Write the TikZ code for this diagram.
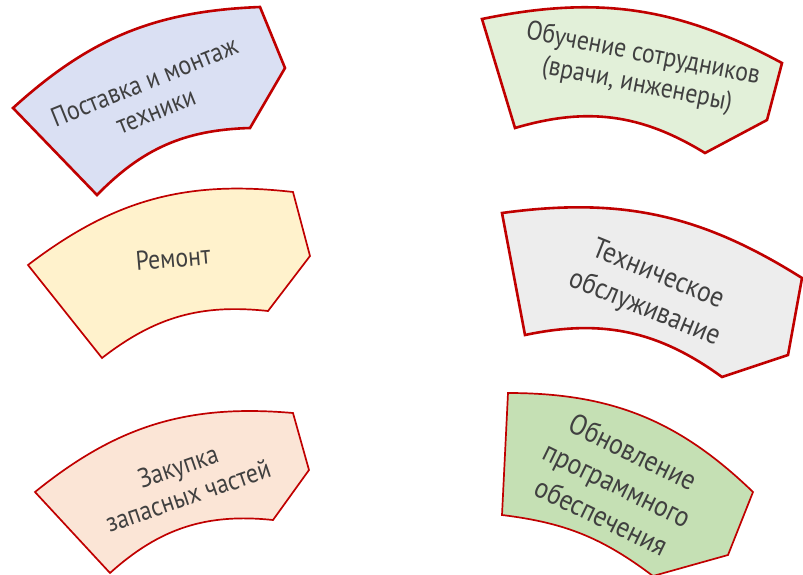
\documentclass[tikz,border=0pt]{standalone}
\usepackage{fontspec}
\setmainfont{PT Sans}[FakeStretch=0.88]
\usetikzlibrary{calc}

\definecolor{edgered}{HTML}{C00000}
\definecolor{textgrey}{HTML}{404040}
\definecolor{bluefill}{HTML}{DAE0F3}
\definecolor{lightgreen}{HTML}{E2F0D9}
\definecolor{yellowfill}{HTML}{FFF2CC}
\definecolor{greyfill}{HTML}{EDEDED}
\definecolor{pinkfill}{HTML}{FBE5D6}
\definecolor{darkgreen}{HTML}{C5E0B4}

\tikzstyle{every picture}=[x=1pt, y=-1pt]
\tikzstyle{sector}=[draw=edgered, line width=1.7pt]
\tikzstyle{thick sector}=[sector, line width=2.6pt]
\tikzstyle{caption}=[text=textgrey, align=center, inner sep=0pt,
                     font=\fontsize{27}{31}\selectfont]
\tikzstyle{big caption}=[caption, font=\fontsize{29}{36}\selectfont]

\begin{document}
\begin{tikzpicture}
\useasboundingbox (0,0) rectangle (803,574);

% left column
\draw[thick sector, fill=bluefill] (13,108) to[bend left=20] (260,7)
  -- (285,68) -- (250,128) to[bend right=22] (97,195) -- cycle;
\draw[sector, fill=yellowfill] (28,265) to[bend left=22] (293,192)
  -- (310,256) -- (268,311) to[bend right=22] (102,358) -- cycle;
\draw[sector, fill=pinkfill] (35,492) to[bend left=22] (293,413)
  -- (309,470) -- (273,520) to[bend right=24] (110,573) -- cycle;

% right column
\draw[thick sector, fill=lightgreen] (482,19) to[bend left=20] (782,63)
  -- (767,120) -- (705,153) to[bend right=24] (515,128) -- cycle;
\draw[thick sector, fill=greyfill] (502,213) to[bend left=20] (802,278)
  -- (788,355) -- (722,377) to[bend right=24] (525,335) -- cycle;
\draw[sector, fill=darkgreen] (508,393) to[bend left=22] (753,492)
  -- (728,555) -- (653,576) to[bend right=15] (502,515) -- cycle;

\node[caption, rotate=22] (DeliveryText) at (150,96) {Поставка и монтаж\\техники};
\node[caption, rotate=5] (RepairText) at (173,258) {Ремонт};
\node[caption, rotate=19] (PartsText) at (183,481) {Закупка\\запасных частей};

\node[caption, rotate=-11] (TrainingText) at (640,70) {Обучение сотрудников\\(врачи, инженеры)};
\node[big caption, rotate=-22] (ServiceText) at (651,292) {Техническое\\обслуживание};
\node[big caption, rotate=-26] (UpdateText) at (617,484) {Обновление\\программного\\обеспечения};

\end{tikzpicture}
\end{document}
